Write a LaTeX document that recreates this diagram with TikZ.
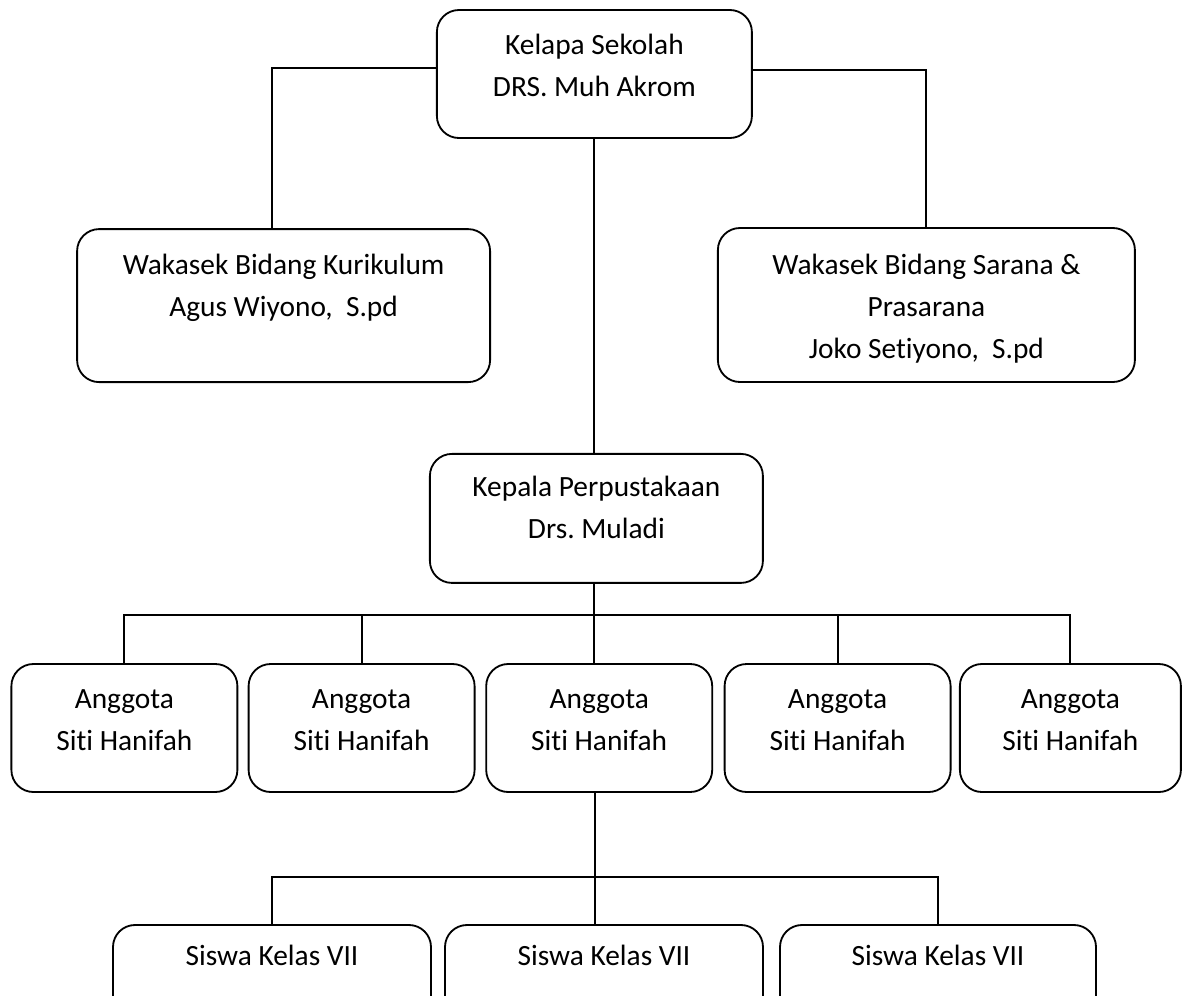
\documentclass[tikz,border=0pt]{standalone}
\usepackage{fontspec}
\setmainfont{Carlito}[Ligatures=NoCommon]
\frenchspacing

% text set at the top of a box: width, height, first baseline, lines
\newcommand{\isikotak}[4]{\parbox[c][#2][t]{#1}{\centering\rule{0pt}{#3}#4}}

\begin{document}
\begin{tikzpicture}

\tikzstyle{kotak} = [draw, rounded corners=0.55cm, line width=1.3pt, inner sep=0pt, font=\fontsize{20.9}{29.9}\selectfont]
\tikzstyle{garis} = [line width=1.3pt]

\useasboundingbox (0,0) rectangle (29.55,-24.875);
\clip (0,0) rectangle (29.55,-24.875);

\node[kotak] (kepsek) at (14.86,-1.85) {\isikotak{7.875cm}{3.2cm}{1.12cm}{Kelapa Sekolah\\DRS. Muh Akrom}};

\node[kotak] (kurikulum) at (7.09,-7.64) {\isikotak{10.325cm}{3.825cm}{1.14cm}{Wakasek Bidang Kurikulum\\Agus Wiyono,~ S.pd}};
\node[kotak] (sarana) at (23.16,-7.625) {\isikotak{10.425cm}{3.85cm}{1.17cm}{Wakasek Bidang Sarana \&\\Prasarana\\Joko Setiyono,~ S.pd}};

\node[kotak] (perpus) at (14.91,-12.96) {\isikotak{8.325cm}{3.225cm}{1.07cm}{Kepala Perpustakaan\\Drs. Muladi}};

\node[kotak] (a1) at (3.11,-18.2) {\isikotak{5.65cm}{3.2cm}{1.1cm}{Anggota\\Siti Hanifah}};
\node[kotak] (a2) at (9.04,-18.2) {\isikotak{5.65cm}{3.2cm}{1.1cm}{Anggota\\Siti Hanifah}};
\node[kotak] (a3) at (14.98,-18.2) {\isikotak{5.65cm}{3.2cm}{1.1cm}{Anggota\\Siti Hanifah}};
\node[kotak] (a4) at (20.94,-18.2) {\isikotak{5.65cm}{3.2cm}{1.1cm}{Anggota\\Siti Hanifah}};
\node[kotak] (a5) at (26.76,-18.2) {\isikotak{5.525cm}{3.2cm}{1.1cm}{Anggota\\Siti Hanifah}};

\node[kotak] (s1) at (6.8,-24.725) {\isikotak{7.95cm}{3.2cm}{1.0cm}{Siswa Kelas VII}};
\node[kotak] (s2) at (15.1,-24.725) {\isikotak{7.95cm}{3.2cm}{1.0cm}{Siswa Kelas VII}};
\node[kotak] (s3) at (23.45,-24.725) {\isikotak{7.9cm}{3.2cm}{1.0cm}{Siswa Kelas VII}};

\coordinate (bus1) at (14.85,-15.375);
\coordinate (bus2) at (14.85,-21.925);

\draw[garis] ([yshift=0.15cm]kepsek.west) -| ([xshift=-0.29cm]kurikulum.north);
\draw[garis] ([yshift=0.1cm]kepsek.east) -| (sarana.north);
\draw[garis] (kepsek.south) -- (kepsek.south |- perpus.north);

\draw[garis] ([xshift=-0.05cm]perpus.south) -- ([xshift=-0.05cm]perpus.south |- a3.north);
\draw[garis] (a1.north) -- (a1.north |- bus1) -- (a5.north |- bus1) -- (a5.north);
\draw[garis] (a2.north) -- (a2.north |- bus1);
\draw[garis] (a4.north) -- (a4.north |- bus1);

\draw[garis] ([xshift=-0.1cm]a3.south) -- ([xshift=-0.1cm]a3.south |- s2.north);
\draw[garis] (s1.north) -- (s1.north |- bus2) -- (s3.north |- bus2) -- (s3.north);

\end{tikzpicture}
\end{document}
